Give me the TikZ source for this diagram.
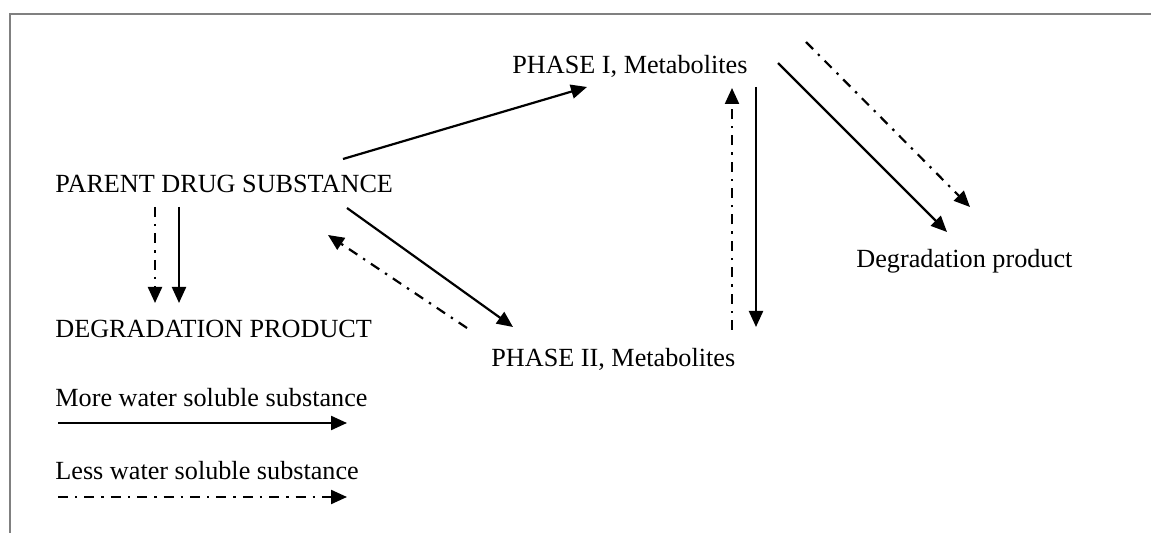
\documentclass[tikz,border=0pt]{standalone}
\usepackage{fontspec}
\setmainfont{Liberation Serif}
\usetikzlibrary{arrows.meta,positioning}

\begin{document}
\begin{tikzpicture}[
        x=0.5pt, y=-0.5pt,
        label/.style={inner sep=0pt, anchor=base west, font=\fontsize{13.1}{15}\selectfont},
        arrow/.style={-{Triangle[length=8pt,width=7pt]}, line width=1.1pt},
        dasharrow/.style={arrow, dash pattern=on 5pt off 3.5pt on 1.2pt off 3.5pt}
      ]
      \useasboundingbox (0,0) rectangle (1151,533);
      % frame
      \draw[gray, line width=0.8pt] (10,533) -- (10,14) -- (1151,14);

      \node[label] (parent) at (55,193) {PARENT DRUG SUBSTANCE};
      \node[label] (degr) at (55,338) {DEGRADATION PRODUCT};
      \node[label] (phase1) at (512,74) {PHASE I, Metabolites};
      \node[label] (phase2) at (491,367) {PHASE II, Metabolites};
      \node[label] (degprod) at (856,268) {Degradation product};
      \node[label] (more) at (55,407) {More water soluble substance};
      \node[label] (less) at (55,480) {Less water soluble substance};

      \draw[dasharrow] ([shift={(100,14)}]parent.base west) -- ([shift={(100,-35)}]degr.base west);
      \draw[arrow] ([shift={(124,14)}]parent.base west) -- ([shift={(124,-35)}]degr.base west);
      \draw[arrow] ([shift={(288,-34)}]parent.base west) -- ([shift={(75,13)}]phase1.base west);
      \draw[arrow] ([shift={(292,15)}]parent.base west) -- ([shift={(22,-40)}]phase2.base west);
      \draw[dasharrow] ([shift={(-24,-39)}]phase2.base west) -- ([shift={(273,42)}]parent.base west);
      \draw[dasharrow] ([shift={(241,-37)}]phase2.base west) -- ([shift={(220,14)}]phase1.base west);
      \draw[arrow] ([shift={(244,13)}]phase1.base west) -- ([shift={(265,-40)}]phase2.base west);
      \draw[arrow] ([shift={(266,-11)}]phase1.base west) -- ([shift={(91,-36)}]degprod.base west);
      \draw[dasharrow] ([shift={(294,-32)}]phase1.base west) -- ([shift={(114,-61)}]degprod.base west);

      % legend
      \draw[arrow] ([shift={(3,16)}]more.base west) -- ++(289,0);
      \draw[dasharrow] ([shift={(3,17)}]less.base west) -- ++(289,0);
    \end{tikzpicture}
\end{document}
